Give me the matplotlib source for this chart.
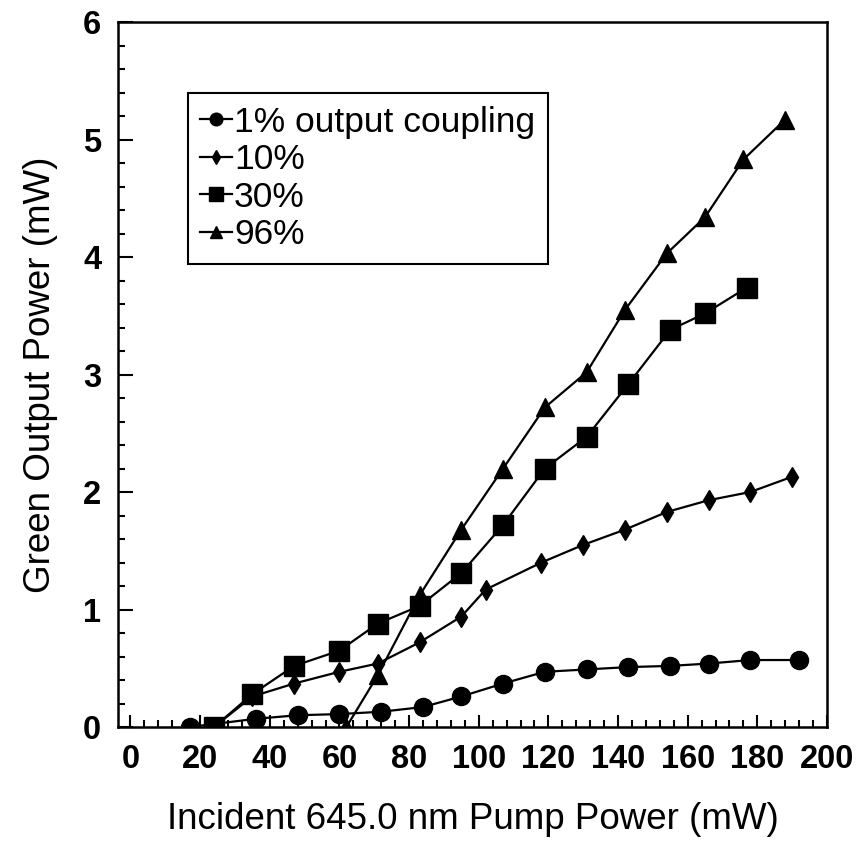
import matplotlib
matplotlib.use('Agg')
import matplotlib.pyplot as plt
from matplotlib.ticker import MultipleLocator

plt.rcParams['font.family'] = ['Liberation Sans', 'DejaVu Sans']

# ==================== data (mW) ====================
pump_1 = [17, 36, 48, 60, 72, 84, 95, 107, 119, 131, 143, 155, 166, 178, 192]
green_1 = [0.0, 0.07, 0.10, 0.11, 0.13, 0.17, 0.26, 0.37, 0.47, 0.49, 0.51, 0.52, 0.54, 0.57, 0.57]

pump_10 = [24, 35, 47, 60, 71, 83, 95, 102, 118, 130, 142, 154, 166, 178, 190]
green_10 = [0.0, 0.26, 0.37, 0.47, 0.54, 0.72, 0.94, 1.17, 1.40, 1.55, 1.68, 1.83, 1.93, 2.00, 2.13]

pump_30 = [24, 35, 47, 60, 71, 83, 95, 107, 119, 131, 143, 155, 165, 177]
green_30 = [0.0, 0.28, 0.52, 0.65, 0.88, 1.03, 1.31, 1.72, 2.20, 2.47, 2.92, 3.38, 3.52, 3.74]

pump_96 = [62, 71, 83, 95, 107, 119, 131, 142, 154, 165, 176, 188]
green_96 = [0.0, 0.44, 1.12, 1.68, 2.20, 2.72, 3.02, 3.55, 4.03, 4.34, 4.83, 5.17]

labels = ['1% output coupling', '10%', '30%', '96%']

# ==================== figure ====================
fig = plt.figure(figsize=(8.61, 8.43), dpi=100)
ax = fig.add_axes([0.137, 0.1376, 0.8235, 0.8363])

lw = 1.6
ax.plot(pump_1, green_1, '-o', color='black', lw=lw, ms=13, label=labels[0])
ax.plot(pump_10, green_10, '-d', color='black', lw=lw, ms=10, label=labels[1])
ax.plot(pump_30, green_30, '-s', color='black', lw=lw, ms=14, label=labels[2])
ax.plot(pump_96, green_96, '-^', color='black', lw=lw, ms=13, label=labels[3])

ax.set_xlim(-3.6, 200)
ax.set_ylim(0, 6)
ax.xaxis.set_major_locator(MultipleLocator(20))
ax.xaxis.set_minor_locator(MultipleLocator(4))
ax.yaxis.set_major_locator(MultipleLocator(1))
ax.yaxis.set_minor_locator(MultipleLocator(0.2))

for s in ax.spines.values():
    s.set_linewidth(1.8)
ax.tick_params(which='both', direction='in', top=False, right=False,
               width=1.5, labelsize=23.5)
ax.tick_params(which='major', length=11, pad=12)
ax.tick_params(which='minor', length=5)
ax.tick_params(axis='x', which='major', length=9)
for t in ax.get_xticklabels() + ax.get_yticklabels():
    t.set_fontweight('bold')

ax.set_xlabel('Incident 645.0 nm Pump Power (mW)', fontsize=26.5, labelpad=20)
ax.set_ylabel('Green Output Power (mW)', fontsize=26.5, labelpad=18)

leg = ax.legend(loc='upper left', bbox_to_anchor=(0.0987, 0.899),
                borderaxespad=0, fontsize=25.5, markerscale=0.7,
                handlelength=0.9, handletextpad=0.05, labelspacing=0.13,
                borderpad=0.35, fancybox=False, framealpha=1)
leg.get_frame().set_edgecolor('black')
leg.get_frame().set_linewidth(1.5)

fig.savefig('out.png', dpi=100)
